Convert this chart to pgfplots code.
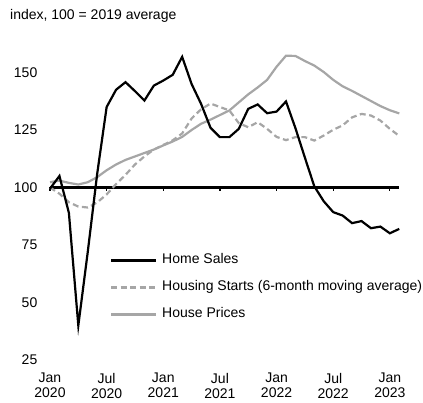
\documentclass[border=0pt]{standalone}
\usepackage{fontspec}
\setmainfont{Liberation Sans}
\usepackage{pgfplots}
\pgfplotsset{compat=1.18}
\definecolor{lgray}{RGB}{166,166,166}
\newcommand{\fs}{\fontsize{14}{15}\selectfont}
\begin{document}
\begin{tikzpicture}
\begin{axis}[
  x=9.44pt, y=2.3pt,
  xmin=0, xmax=37, ymin=25, ymax=160,
  enlargelimits=false,
  clip=false,
  axis line style={draw=none},
  xtick={0,6,12,18,24,30,36},
  xticklabels={Jan\\2020,Jul\\2020,Jan\\2021,Jul\\2021,Jan\\2022,Jul\\2022,Jan\\2023},
  xticklabel style={align=center, font=\fs, anchor=north, inner sep=0pt, yshift=-12.7pt},
  ytick={25,50,75,100,125,150},
  yticklabel style={font=\fs, anchor=east, inner sep=0pt, xshift=-12.5pt},
  /pgf/number format/assume math mode=true,
  tick style={draw=none},
  legend style={draw=none, fill=none, font=\fs, at={(axis cs:6.356,71.09)}, anchor=north west,
    inner sep=0pt, outer sep=0pt, row sep=14pt, column sep=5pt,
    nodes={inner sep=0pt, text height=10pt, text depth=3pt}},
  legend cell align=left,
  legend image code/.code={\draw[#1] (0pt,0pt) -- (45pt,0pt);},
]
% reference line at 100
\addplot[black, line width=2.2pt, forget plot] coordinates {(0,100) (37,100)};
\pgfplotsinvokeforeach{0,6,12,18,24,30,36}{
  \draw[black, line width=1.3pt] (axis cs:#1,100) -- ([yshift=-4pt]axis cs:#1,100);
}
% House Prices
\addplot[lgray, line width=2.2pt, forget plot] coordinates {
(0,102.3)(1,103)(2,102)(3,101.3)(4,102.3)(5,104.5)(6,107.5)(7,110)(8,112)(9,113.5)(10,115)(11,116.5)
(12,118.3)(13,120)(14,122)(15,125)(16,127.7)(17,129.5)(18,131.5)(19,133.5)(20,137)(21,140.5)(22,143.5)(23,146.8)
(24,152.5)(25,157.3)(26,157.2)(27,155)(28,153)(29,150.2)(30,146.8)(31,144)(32,142)(33,139.8)(34,137.6)(35,135.4)
(36,133.6)(37,132.2)};
% Housing Starts
\addplot[lgray, line width=2.2pt, dash pattern=on 6pt off 3.5pt, forget plot] coordinates {
(0,100)(1,97.3)(2,93.6)(3,91.7)(4,91.3)(5,93.5)(6,97)(7,101.5)(8,105.5)(9,110)(10,113.5)(11,116.5)
(12,118.5)(13,120.5)(14,123.5)(15,130)(16,134)(17,136.5)(18,135)(19,133.5)(20,128)(21,126.2)(22,128.4)(23,125.5)
(24,122)(25,120.6)(26,121.9)(27,121.9)(28,120.4)(29,122.6)(30,125.1)(31,127)(32,130.5)(33,132)(34,131.3)(35,129.1)
(36,125.5)(37,122.4)};
% Home Sales
\addplot[black, line width=2.2pt, forget plot] coordinates {
(0,99.5)(1,105)(2,89)(3,40)(4,72)(5,106)(6,135)(7,142.5)(8,145.8)(9,141.9)(10,137.8)(11,144.3)
(12,146.5)(13,149)(14,156.8)(15,145)(16,136.4)(17,126)(18,121.9)(19,121.9)(20,125.5)(21,134.2)(22,136.1)(23,132.3)
(24,133)(25,137.4)(26,125.8)(27,113)(28,100.5)(29,94)(30,89.3)(31,87.8)(32,84.5)(33,85.4)(34,82.3)(35,83)
(36,80.1)(37,82)};
\addlegendimage{black, line width=2.2pt}
\addlegendentry{Home Sales}
\addlegendimage{lgray, line width=2.2pt, dash pattern=on 6pt off 3.5pt}
\addlegendentry{Housing Starts (6-month moving average)}
\addlegendimage{lgray, line width=2.2pt}
\addlegendentry{House Prices}
\node[anchor=base west, inner sep=0pt, font=\fs] at ([shift={(-40pt,340pt)}]axis cs:0,25) {index, 100 = 2019 average};
\coordinate (bbsw) at ([shift={(-50pt,-42pt)}]axis cs:0,25);
\coordinate (bbne) at ([shift={(373pt,360pt)}]axis cs:0,25);
\end{axis}
\pgfresetboundingbox
\path[use as bounding box] (bbsw) rectangle (bbne);
\end{tikzpicture}
\end{document}
